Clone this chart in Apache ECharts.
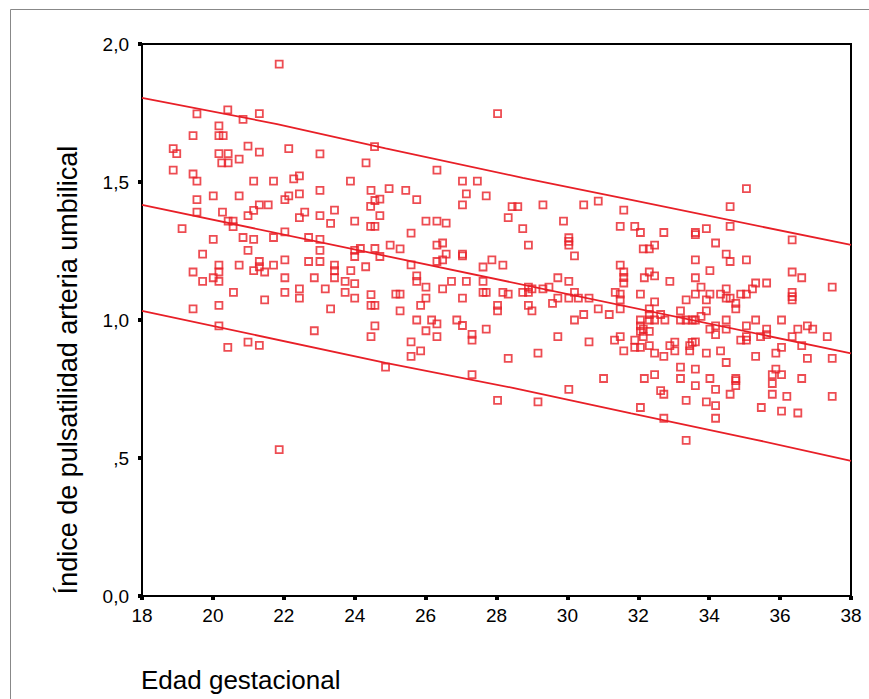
<!DOCTYPE html>
<html>
<head>
<meta charset="utf-8">
<script src="https://cdn.jsdelivr.net/npm/echarts@6/dist/echarts.min.js"></script>
<style>
  html, body { margin: 0; padding: 0; background: #fff; }
  #chart { width: 869px; height: 699px; }
</style>
</head>
<body>
<div id="chart"></div>
<script>
// Edad gestacional (semanas) vs índice de pulsatilidad
const scatterPoints = [
    [19.55,1.747],[20.42,1.761],[20.85,1.727],[21.31,1.748],[20.17,1.703],[19.44,1.668],[20.17,1.668],[20.29,1.668],
    [18.88,1.621],[18.98,1.603],[20.17,1.603],[20.43,1.603],[20.99,1.630],[21.31,1.608],[22.14,1.621],[23.02,1.602],
    [24.56,1.628],[24.32,1.569],[20.25,1.569],[20.43,1.569],[20.74,1.583],[18.88,1.543],[19.44,1.529],[19.55,1.503],
    [21.15,1.503],[21.71,1.503],[22.28,1.511],[22.44,1.522],[23.88,1.503],[23.02,1.470],[24.46,1.470],[24.97,1.476],
    [19.55,1.436],[20.01,1.450],[20.74,1.450],[22.03,1.436],[22.14,1.450],[22.44,1.457],[21.31,1.417],[21.56,1.417],
    [21.15,1.397],[24.45,1.412],[24.57,1.433],[24.71,1.438],[19.55,1.391],[20.27,1.391],[20.99,1.378],[22.59,1.391],
    [22.44,1.371],[23.43,1.398],[23.02,1.378],[23.32,1.350],[24.00,1.358],[24.45,1.339],[24.57,1.339],[24.71,1.378],
    [19.13,1.331],[20.43,1.358],[20.57,1.358],[20.57,1.338],[22.03,1.319],
    [28.03,1.748],[26.32,1.543],[27.04,1.503],[27.46,1.503],[27.15,1.457],[27.71,1.450],[25.44,1.470],[25.75,1.436],
    [27.04,1.417],[28.44,1.411],[28.60,1.411],[29.31,1.417],[30.46,1.417],[30.87,1.431],[31.59,1.398],[26.01,1.358],
    [26.32,1.358],[26.58,1.351],[28.33,1.371],[29.89,1.358],[28.74,1.331],[31.49,1.339],[25.59,1.315],
    [35.05,1.476],[34.59,1.411],[34.59,1.339],[33.92,1.331],[31.90,1.339],
    [20.01,1.292],[20.85,1.299],[21.15,1.292],[21.71,1.299],[22.70,1.299],[23.02,1.292],[19.71,1.239],[20.99,1.252],
    [23.02,1.252],[24.00,1.252],[24.16,1.259],[24.00,1.230],[24.57,1.259],[24.71,1.230],[25.00,1.271],
    [20.17,1.199],[20.17,1.174],[20.17,1.140],[20.01,1.153],[19.44,1.174],[19.71,1.140],[20.74,1.199],[21.31,1.212],
    [21.31,1.193],[21.15,1.179],[21.46,1.174],[21.71,1.199],[22.03,1.218],[22.70,1.212],[23.02,1.212],[23.43,1.199],
    [23.43,1.179],[23.43,1.153],[23.89,1.179],[24.31,1.193],[22.03,1.153],[22.86,1.153],[23.73,1.140],[24.00,1.132],
    [20.58,1.100],[22.03,1.100],[22.44,1.113],[22.44,1.079],[23.17,1.113],[23.73,1.100],[24.00,1.079],[24.46,1.092],
    [21.46,1.073],[24.46,1.053],[24.57,1.053],[19.44,1.040],[20.17,1.053],[23.32,1.040],[24.57,0.979],[24.46,0.940],
    [20.17,0.979],[22.86,0.961],[20.42,0.901],[20.99,0.920],[21.31,0.908],[24.87,0.829],
    [25.28,1.258],[26.32,1.271],[26.48,1.279],[26.58,1.239],[26.32,1.212],[26.48,1.218],[27.04,1.239],[27.04,1.232],
    [25.59,1.200],[27.87,1.218],[27.62,1.192],[28.18,1.199],[28.90,1.271],[30.04,1.298],[30.04,1.285],[30.04,1.271],
    [30.20,1.232],[31.49,1.199],[31.59,1.174],[31.59,1.154],[31.59,1.134],[25.75,1.160],[25.75,1.140],[26.01,1.119],
    [26.73,1.140],[27.15,1.140],[27.62,1.140],[26.48,1.113],[25.16,1.094],[25.28,1.094],[26.01,1.079],[25.86,1.053],
    [27.04,1.079],[27.62,1.100],[27.71,1.100],[28.18,1.100],[28.33,1.094],[28.74,1.100],[28.90,1.119],[28.90,1.100],
    [29.00,1.113],[29.31,1.113],[29.48,1.119],[29.73,1.153],[30.04,1.140],[30.20,1.100],[29.73,1.079],[30.04,1.079],
    [30.31,1.079],[30.61,1.079],[29.58,1.060],[28.90,1.053],[29.00,1.033],[28.03,1.053],[28.03,1.033],[30.87,1.040],
    [31.18,1.020],[30.46,1.020],[30.20,1.000],[31.35,1.100],[31.49,1.094],[31.49,1.073],[31.49,1.040],[25.28,1.033],
    [25.75,1.000],[26.17,1.000],[26.32,0.986],[26.88,1.000],[27.04,0.980],[26.01,0.961],[26.32,0.940],[27.31,0.948],
    [27.31,0.927],[27.71,0.967],[29.73,0.940],[25.59,0.921],[25.86,0.888],[25.59,0.868],[30.61,0.921],[31.33,0.927],
    [31.49,0.940],[31.59,0.888],[28.33,0.861],[29.17,0.880],
    [27.31,0.802],[28.03,0.709],[29.17,0.703],[30.04,0.749],[31.02,0.788],
    [32.06,1.317],[32.72,1.317],[33.61,1.317],[33.61,1.309],[36.34,1.290],[34.18,1.279],[32.14,1.258],[32.31,1.258],
    [32.46,1.271],[33.61,1.218],[34.48,1.239],[34.59,1.212],[35.05,1.218],[34.02,1.179],[33.61,1.153],[32.89,1.140],
    [32.17,1.153],[32.31,1.174],[32.46,1.160],[36.34,1.174],[36.61,1.153],[32.06,1.094],[33.77,1.119],[33.61,1.094],
    [34.02,1.094],[33.35,1.073],[33.92,1.073],[34.32,1.094],[34.48,1.113],[34.48,1.079],[34.59,1.079],[34.89,1.094],
    [35.05,1.094],[35.22,1.113],[35.31,1.134],[35.62,1.134],[36.34,1.100],[36.34,1.085],[36.34,1.073],[37.47,1.119],
    [34.75,1.060],[34.75,1.040],[32.46,1.066],[32.31,1.040],[32.31,1.020],[33.19,1.033],[33.92,1.033],[33.77,1.013],
    [33.61,1.000],[32.06,1.000],[32.31,1.000],[32.46,1.000],[32.63,1.020],[32.75,1.000],[33.19,1.000],[33.35,1.000],
    [33.52,1.000],[34.48,1.000],[35.31,1.000],[36.04,1.000],[32.06,0.979],[32.06,0.959],[32.14,0.967],[32.31,0.959],
    [32.14,0.940],[34.02,0.967],[34.18,0.979],[34.18,0.947],[34.48,0.967],[35.05,0.979],[35.62,0.967],[35.62,0.947],
    [36.50,0.967],[36.77,0.979],[36.92,0.967],[37.33,0.940],[36.34,0.940],[34.89,0.927],[35.05,0.940],[35.05,0.927],
    [35.45,0.940],[31.90,0.927],[31.90,0.901],[32.06,0.901],[32.31,0.907],[32.46,0.880],[32.72,0.868],[32.89,0.907],
    [33.03,0.920],[33.03,0.888],[33.45,0.907],[33.52,0.919],[33.45,0.888],[33.61,0.921],[33.92,0.880],[34.32,0.888],
    [34.48,0.846],[35.31,0.868],[35.88,0.880],[36.04,0.901],[36.61,0.907],[36.77,0.861],[37.47,0.861],[33.19,0.829],
    [33.61,0.822],[35.88,0.822],
    [32.17,0.788],[32.46,0.802],[33.19,0.788],[33.61,0.762],[34.02,0.788],[34.18,0.749],[34.75,0.788],[34.75,0.780],
    [34.75,0.762],[34.59,0.731],[35.78,0.802],[36.04,0.802],[35.78,0.770],[35.78,0.731],[36.61,0.788],[36.19,0.723],
    [37.47,0.723],[32.63,0.744],[32.72,0.731],[33.35,0.709],[33.92,0.703],[34.18,0.690],[32.06,0.683],[35.47,0.683],
    [36.04,0.670],[36.50,0.663],[32.72,0.644],[34.18,0.644],[33.35,0.564],
    [21.87,0.530],[21.87,1.927]
];

// recta de regresión y bandas de predicción
const fitLine = [[18, 1.417], [38, 0.879]];
const upperBand = [[18, 1.805], [21.81, 1.710], [24.87, 1.622], [28.74, 1.515], [31.8, 1.435], [38, 1.272]];
const lowerBand = [[18, 1.033], [24.87, 0.845], [28.46, 0.754], [31.8, 0.662], [35.29, 0.567], [38, 0.490]];

const yTickLabels = ['0,0', ',5', '1,0', '1,5', '2,0'];

const RED = '#e81f27';

let myChart = echarts.init(document.getElementById('chart'), null, { renderer: 'svg' });

let lineStyle = { color: RED, width: 1.8 };

let option = {
    backgroundColor: '#fff',
    animation: false,
    grid: {
        left: 142,
        right: 18,
        top: 44,
        bottom: 103,
        show: true,
        borderColor: '#000',
        borderWidth: 2
    },
    xAxis: {
        type: 'value',
        min: 18,
        max: 38,
        interval: 2,
        axisLine: { show: true, onZero: false, lineStyle: { color: '#000', width: 2 } },
        axisTick: { show: true, inside: false, length: 4, lineStyle: { color: '#000', width: 4 } },
        axisLabel: { color: '#000', fontSize: 19, fontFamily: 'Liberation Sans, Arial', margin: 10 },
        splitLine: { show: false }
    },
    yAxis: {
        type: 'value',
        min: 0,
        max: 2,
        interval: 0.5,
        axisLine: { show: true, onZero: false, lineStyle: { color: '#000', width: 2 } },
        axisTick: { show: true, inside: false, length: 4, lineStyle: { color: '#000', width: 4 } },
        axisLabel: {
            color: '#000', fontSize: 19, fontFamily: 'Liberation Sans, Arial', margin: 13,
            formatter: function (v) { return yTickLabels[Math.round(v / 0.5)]; }
        },
        splitLine: { show: false }
    },
    graphic: [
        {
            type: 'rect',
            shape: { x: 10.5, y: 9.5, width: 900, height: 720 },
            style: { fill: 'none', stroke: '#888', lineWidth: 1 },
            silent: true
        },
        {
            type: 'text',
            x: 68,
            y: 370,
            rotation: Math.PI / 2,
            style: {
                text: 'Índice de pulsatilidad arteria umbilical',
                font: '27px "Liberation Sans", Arial',
                fill: '#000',
                align: 'center',
                verticalAlign: 'middle'
            }
        },
        {
            type: 'text',
            x: 141,
            y: 680,
            style: {
                text: 'Edad gestacional',
                font: '26px "Liberation Sans", Arial',
                fill: '#000',
                align: 'left',
                verticalAlign: 'middle'
            }
        }
    ],
    series: [
        {
            name: 'Ajuste',
            type: 'line',
            data: fitLine,
            symbol: 'none',
            lineStyle: lineStyle
        },
        {
            name: 'Superior',
            type: 'line',
            data: upperBand,
            symbol: 'none',
            lineStyle: lineStyle
        },
        {
            name: 'Inferior',
            type: 'line',
            data: lowerBand,
            symbol: 'none',
            lineStyle: lineStyle
        },
        {
            name: 'IP',
            type: 'scatter',
            data: scatterPoints,
            symbol: 'rect',
            symbolSize: 7,
            itemStyle: { color: 'rgba(0,0,0,0)', borderColor: RED, borderWidth: 1.8 }
        }
    ]
};

myChart.setOption(option);
</script>
</body>
</html>
